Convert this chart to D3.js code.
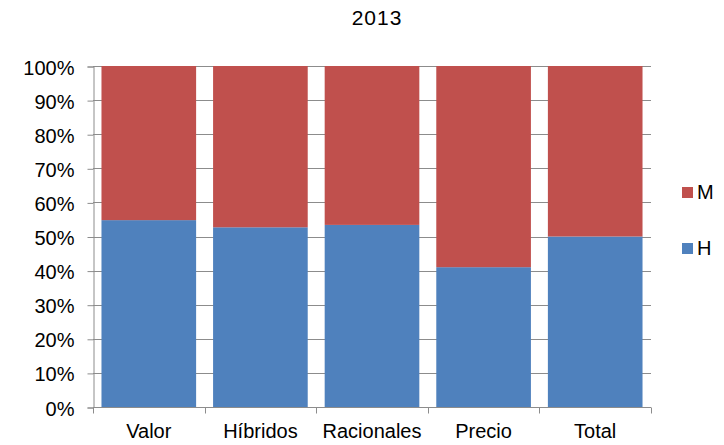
<!DOCTYPE html>
<html>
<head>
<meta charset="utf-8">
<script src="https://cdn.jsdelivr.net/npm/d3@7"></script>
<style>
  html, body { margin: 0; padding: 0; background: #fff; }
  svg { display: block; font-family: "Liberation Sans", Arial, sans-serif; }
</style>
</head>
<body>
<svg id="chart" width="724" height="445"></svg>
<script>
// Share of H and M per category, 2013 (stacked to 100%)
const categories = ["Valor", "Híbridos", "Racionales", "Precio", "Total"];
const seriesNames = ["H", "M"];
const hValues = [54.8, 52.7, 53.4, 41.0, 50.0];
const mValues = [45.2, 47.3, 46.6, 59.0, 50.0];
const yTicks = [0, 10, 20, 30, 40, 50, 60, 70, 80, 90, 100];
const title = "2013";

const colors = { H: "#4F81BD", M: "#C0504D" };
const axisGray = "#8c8c8c";
const fontSize = "20px";

const svg = d3.select("#chart");
const plot = { left: 93, right: 651, top: 66, bottom: 407 };

const x = d3.scaleBand()
  .domain(categories)
  .range([plot.left, plot.right])
  .paddingInner(0.152)
  .paddingOuter(0.076);

const y = d3.scaleLinear()
  .domain([0, 100])
  .range([plot.bottom, plot.top]);

const rows = categories.map((c, i) => ({ cat: c, H: hValues[i], M: mValues[i] }));
const stacked = d3.stack().keys(seriesNames)(rows);

// horizontal gridlines
svg.append("g")
  .selectAll("line")
  .data(yTicks.filter(t => t > 0))
  .join("line")
  .attr("x1", plot.left)
  .attr("x2", plot.right)
  .attr("y1", d => Math.round(y(d)) + 0.5)
  .attr("y2", d => Math.round(y(d)) + 0.5)
  .attr("stroke", axisGray)
  .attr("stroke-width", 1);

// stacked bars
svg.append("g")
  .selectAll("g")
  .data(stacked)
  .join("g")
  .attr("fill", d => colors[d.key])
  .selectAll("rect")
  .data(d => d.map(p => ({ p, cat: p.data.cat })))
  .join("rect")
  .attr("x", d => x(d.cat))
  .attr("width", x.bandwidth())
  .attr("y", d => y(d.p[1]))
  .attr("height", d => y(d.p[0]) - y(d.p[1]));

// y axis
const yAxis = d3.axisLeft(y)
  .tickValues(yTicks)
  .tickFormat(d => d + "%")
  .tickSize(6)
  .tickPadding(13);
const gy = svg.append("g")
  .attr("transform", `translate(${plot.left + 0.5},0.5)`)
  .call(yAxis);
gy.select(".domain").attr("stroke", axisGray);
gy.selectAll(".tick line").attr("stroke", axisGray);
gy.selectAll(".tick text")
  .attr("fill", "#000")
  .attr("dy", "7.5")
  .style("font-size", fontSize)
  .style("font-family", "Liberation Sans, Arial, sans-serif");

// x axis with ticks between categories
const gx = svg.append("g")
  .attr("transform", `translate(0,${plot.bottom + 0.5})`);
gx.append("line")
  .attr("x1", plot.left)
  .attr("x2", plot.right)
  .attr("stroke", axisGray);
const boundaries = d3.range(categories.length + 1).map(i => plot.left + i * (plot.right - plot.left) / categories.length);
gx.selectAll("line.tk")
  .data(boundaries)
  .join("line")
  .attr("class", "tk")
  .attr("x1", d => Math.round(d) + 0.5)
  .attr("x2", d => Math.round(d) + 0.5)
  .attr("y1", 0)
  .attr("y2", 6)
  .attr("stroke", axisGray);
gx.selectAll("text")
  .data(categories)
  .join("text")
  .attr("x", d => x(d) + x.bandwidth() / 2)
  .attr("y", 30)
  .attr("text-anchor", "middle")
  .style("font-size", fontSize)
  .text(d => d);

// title
svg.append("text")
  .attr("x", 377)
  .attr("y", 25)
  .attr("text-anchor", "middle")
  .style("font-size", "21px")
  .style("letter-spacing", "1px")
  .text(title);

// legend
const legendItems = ["M", "H"];
const lg = svg.append("g").attr("transform", "translate(682,187)");
legendItems.forEach((k, i) => {
  const g = lg.append("g").attr("transform", `translate(0,${i * 56})`);
  g.append("rect").attr("width", 11).attr("height", 11).attr("fill", colors[k]);
  g.append("text").attr("x", 15).attr("y", 12).style("font-size", fontSize).text(k);
});
</script>
</body>
</html>
